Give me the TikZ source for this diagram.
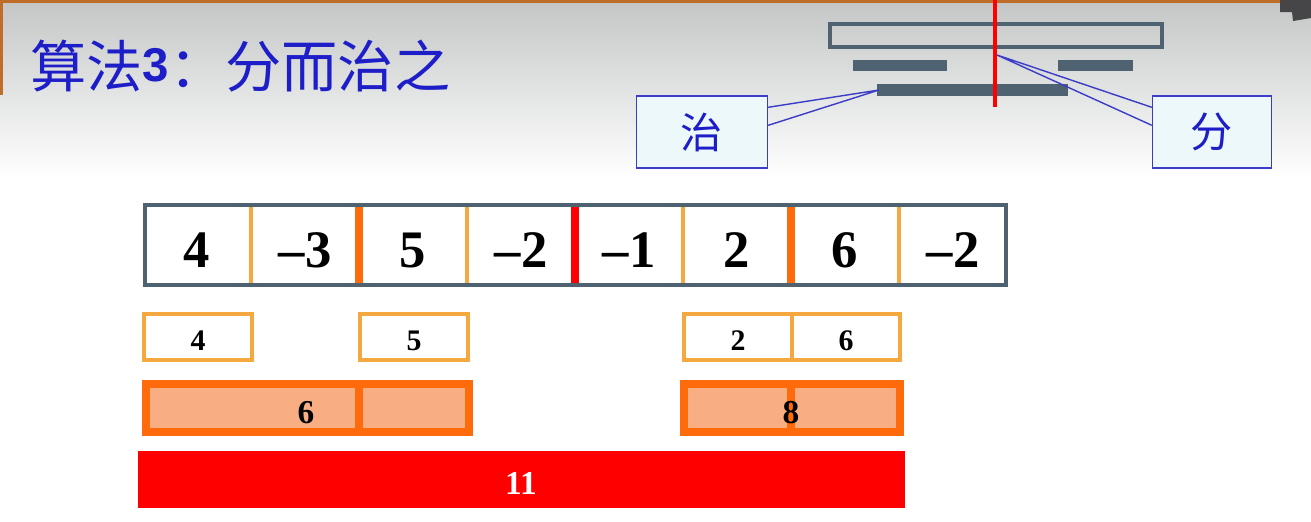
\documentclass[tikz,border=0pt]{standalone}
\usepackage{fontspec}
\setmainfont{Liberation Serif}
\newfontfamily\cjk{Noto Sans CJK SC}
\newfontfamily\arialb{Liberation Sans}
\definecolor{bgtop}{RGB}{196,198,198}
\definecolor{brownline}{RGB}{190,110,40}
\definecolor{titleblue}{RGB}{30,30,200}
\definecolor{slate}{RGB}{78,98,114}
\definecolor{calloutblue}{RGB}{60,60,200}
\definecolor{calloutfill}{RGB}{236,248,250}
\definecolor{lightorange}{RGB}{245,168,64}
\definecolor{deeporange}{RGB}{255,106,10}
\definecolor{peach}{RGB}{248,174,130}
\definecolor{barred}{RGB}{255,0,0}
\definecolor{cornergray}{RGB}{70,70,72}
\tikzset{
  digit/.style={font=\bfseries\fontsize{30}{30}\selectfont, anchor=base, inner sep=0pt},
  smalldigit/.style={font=\bfseries\fontsize{17}{17}\selectfont, anchor=base, inner sep=0pt},
  middigit/.style={font=\bfseries\fontsize{19}{19}\selectfont, anchor=base, inner sep=0pt},
  callout/.style={draw=calloutblue, line width=0.8pt, fill=calloutfill, inner sep=0pt,
    font=\cjk\fontsize{24}{24}\selectfont, text=titleblue},
  pointer/.style={draw=calloutblue, line width=0.8pt},
  thindiv/.style={draw=lightorange, line width=2pt},
  thickdiv/.style={draw=deeporange, line width=4pt},
  reddiv/.style={draw=barred, line width=5pt},
  smallbox/.style={draw=lightorange, line width=1.8pt, fill=white},
  sumbox/.style={draw=deeporange, line width=4.5pt, fill=peach},
}
\begin{document}
\begin{tikzpicture}[x=0.02cm,y=-0.02cm]
\useasboundingbox (0,0) rectangle (1311,521);
\fill[white] (0,0) rectangle (1311,521);
\shade[top color=bgtop,bottom color=white] (0,0) rectangle (1311,178);
\fill[brownline] (0,0) rectangle (1282,3);
\fill[brownline] (0,0) rectangle (3,95);
\fill[cornergray] (1280,0) -- (1311,0) -- (1311,18) -- (1293,21) -- (1292,12) -- (1280,12) -- cycle;

% title
\node[anchor=base west, inner sep=0pt, text=titleblue, font=\cjk\fontsize{32}{32}\selectfont] (title) at (30,87)
  {算法\raisebox{3pt}{\arialb\bfseries\fontsize{27}{27}\selectfont 3}：分而治之};

% icon
\draw[slate, line width=2.8pt] (830,24) rectangle (1162,47);
\fill[slate] (853,60) rectangle (947,71);
\fill[slate] (1058,60) rectangle (1133,71);
\fill[slate] (877,84) rectangle (1068,96);
\draw[barred, line width=2.3pt] (995,0) -- (995,107);

% callouts
\node[callout, minimum width=2.62cm, minimum height=1.44cm] (zhi) at (702,132) {治};
\node[callout, minimum width=2.38cm, minimum height=1.44cm] (fen) at (1212,132) {分};
\coordinate (zhitip) at (879,90);
\coordinate (fentip) at (997,55);
\path (zhi.north east) ++(0,12) coordinate (za) ++(0,18) coordinate (zb);
\path (fen.north west) ++(0,12) coordinate (fa) ++(0,18) coordinate (fb);
\draw[pointer] (za) -- (zhitip) -- (zb);
\draw[pointer] (fa) -- (fentip) -- (fb);

% main array
\fill[white] (145,205) rectangle (1006,285);
\foreach \v [count=\i] in {4,–3,5,–2,–1,2,6,–2} {
  \node[digit] (c\i) at ({143+54+108*(\i-1)},267) {\v};
}
\draw[thindiv] (251,205) -- (251,285);
\draw[thickdiv] (359,205) -- (359,285);
\draw[thindiv] (467,205) -- (467,285);
\draw[reddiv] (575,205) -- (575,285);
\draw[thindiv] (683,205) -- (683,285);
\draw[thickdiv] (791,205) -- (791,285);
\draw[thindiv] (899,205) -- (899,285);
\draw[slate, line width=2.8pt] (145,205) rectangle (1006,285);

% row 2
\draw[smallbox] (144,314) rectangle (252,360);
\draw[smallbox] (360,314) rectangle (468,360);
\draw[smallbox] (684,314) rectangle (900,360);
\draw[smallbox] (792,314) -- (792,360);
\node[smalldigit] (s1) at (198,350) {4};
\node[smalldigit] (s2) at (414,350) {5};
\node[smalldigit] (s3) at (738,350) {2};
\node[smalldigit] (s4) at (846,350) {6};

% row 3
\draw[sumbox] (146,384) rectangle (469,432);
\draw[deeporange, line width=4pt] (359,384) -- (359,432);
\draw[sumbox] (684,384) rectangle (900,432);
\draw[deeporange, line width=4pt] (791,384) -- (791,432);
\node[middigit] (m1) at (306,423) {6};
\node[middigit] (m2) at (791,423) {8};

% row 4
\fill[barred] (138,451) rectangle (905,508);
\node[middigit, text=white] (total) at (521,494) {11};
\end{tikzpicture}
\end{document}
